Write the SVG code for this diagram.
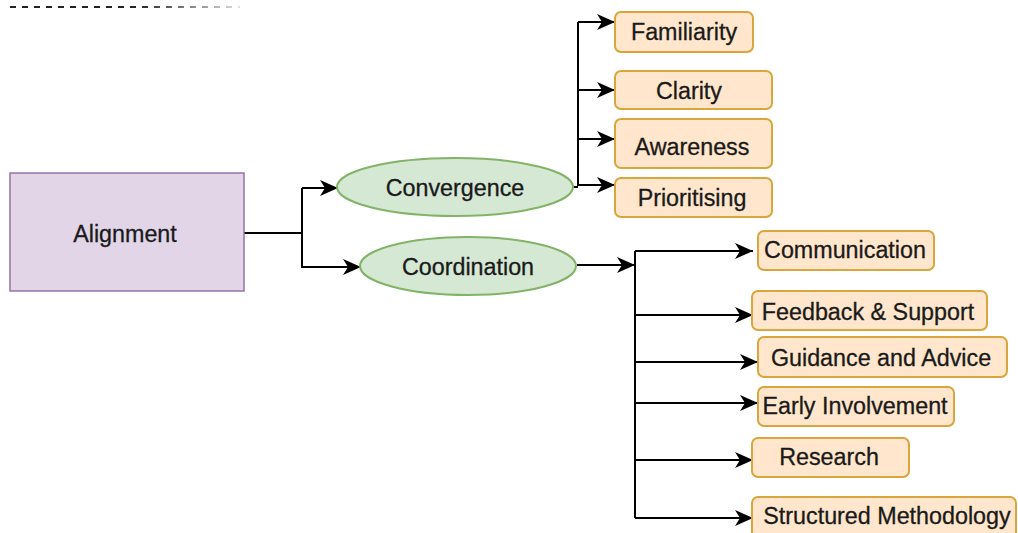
<svg xmlns="http://www.w3.org/2000/svg" width="1018" height="533" viewBox="0 0 1018 533">
  <style>
    text { font-family: "Liberation Sans", Arial, sans-serif; font-size: 23.3px; fill: #1a1a1a; stroke: #1a1a1a; stroke-width: 0.3; text-anchor: middle; }
    .leaf { fill: #ffe6cc; stroke: #d9a53c; stroke-width: 2; }
    .oval { fill: #d5e8d4; stroke: #82b366; stroke-width: 2; }
    .root { fill: #e1d5e7; stroke: #9673a6; stroke-width: 1.5; }
    .wire { fill: none; stroke: #000; stroke-width: 2; }
    .arrow { fill: none; stroke: #000; stroke-width: 2; marker-end: url(#head); }
  </style>
  <defs>
    <marker id="head" markerUnits="userSpaceOnUse" markerWidth="20" markerHeight="16" refX="18" refY="8" orient="auto">
      <path d="M0,0 L18,8 L0,16 L5,8 Z" fill="#000"/>
    </marker>
    <linearGradient id="fade" gradientUnits="userSpaceOnUse" x1="10" y1="0" x2="240" y2="0">
      <stop offset="0" stop-color="#222"/>
      <stop offset="0.55" stop-color="#222"/>
      <stop offset="1" stop-color="#e0e0e0"/>
    </linearGradient>
  </defs>
  <rect width="1018" height="533" fill="#fff"/>

  <!-- dashed rule along the top edge -->
  <line x1="10" y1="7" x2="240" y2="7" stroke="url(#fade)" stroke-width="2" stroke-dasharray="6 6"/>

  <g id="connectors">
    <path class="wire" d="M244 233 H302 M302 188 V268"/>
    <path class="arrow" d="M302 188 H338"/>
    <path class="arrow" d="M302 267 H361"/>
    <path class="wire" d="M573 187 H578 M578 22 V186"/>
    <path class="arrow" d="M578 22 H615"/>
    <path class="arrow" d="M578 90 H615"/>
    <path class="arrow" d="M578 139 H615"/>
    <path class="arrow" d="M578 185 H615"/>
    <path class="arrow" d="M577 265 H635"/>
    <path class="wire" d="M635 251 V518"/>
    <path class="arrow" d="M635 251 H753"/>
    <path class="arrow" d="M635 315 H753"/>
    <path class="arrow" d="M635 362 H758"/>
    <path class="arrow" d="M635 403 H758"/>
    <path class="arrow" d="M635 460 H753"/>
    <path class="arrow" d="M635 518 H753"/>
  </g>

  <g id="alignment">
    <rect class="root" x="10" y="173" width="234" height="118"/>
    <text x="125" y="242">Alignment</text>
  </g>
  <g id="convergence">
    <ellipse class="oval" cx="455" cy="187" rx="118" ry="29"/>
    <text x="455" y="196">Convergence</text>
  </g>
  <g id="coordination">
    <ellipse class="oval" cx="468" cy="266" rx="108" ry="29"/>
    <text x="468" y="275">Coordination</text>
  </g>

  <g id="familiarity">
    <rect class="leaf" x="615" y="12" width="138" height="40" rx="6"/>
    <text x="684" y="40">Familiarity</text>
  </g>
  <g id="clarity">
    <rect class="leaf" x="615" y="71" width="157" height="38" rx="6"/>
    <text x="689" y="99">Clarity</text>
  </g>
  <g id="awareness">
    <rect class="leaf" x="615" y="119" width="157" height="49" rx="6"/>
    <text x="692" y="155">Awareness</text>
  </g>
  <g id="prioritising">
    <rect class="leaf" x="615" y="178" width="157" height="39" rx="6"/>
    <text x="692" y="206">Prioritising</text>
  </g>

  <g id="communication">
    <rect class="leaf" x="758" y="231" width="176" height="39" rx="6"/>
    <text x="845" y="258">Communication</text>
  </g>
  <g id="feedback-support">
    <rect class="leaf" x="752" y="291" width="235" height="39" rx="6"/>
    <text x="868" y="320">Feedback &amp; Support</text>
  </g>
  <g id="guidance-advice">
    <rect class="leaf" x="758" y="337" width="249" height="40" rx="6"/>
    <text x="881" y="366">Guidance and Advice</text>
  </g>
  <g id="early-involvement">
    <rect class="leaf" x="758" y="387" width="196" height="39" rx="6"/>
    <text x="855" y="414">Early Involvement</text>
  </g>
  <g id="research">
    <rect class="leaf" x="752" y="438" width="157" height="39" rx="6"/>
    <text x="829" y="465">Research</text>
  </g>
  <g id="structured-methodology">
    <rect class="leaf" x="752" y="497" width="264" height="44" rx="6"/>
    <text x="887" y="524">Structured Methodology</text>
  </g>
</svg>
